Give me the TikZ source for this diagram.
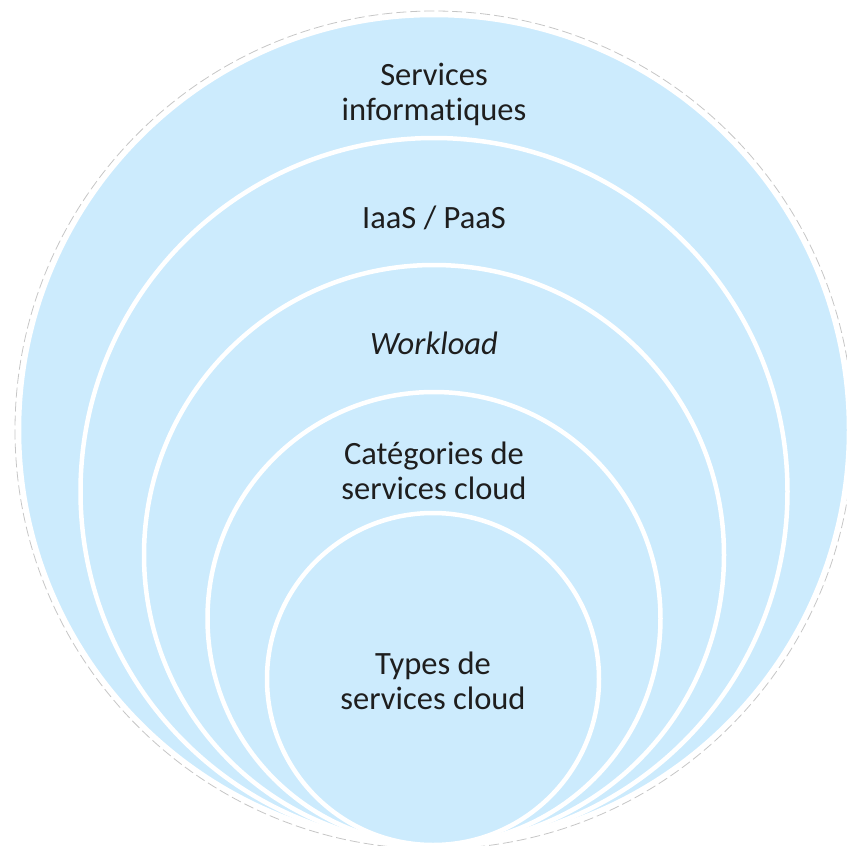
\documentclass[tikz,border=0pt]{standalone}
\usepackage{fontspec}
\setmainfont{Carlito}[Ligatures=NoCommon]
\definecolor{ringfill}{RGB}{204,235,253}
\definecolor{txt}{RGB}{30,30,30}
\begin{document}
\begin{tikzpicture}[x=1pt,y=-1pt,
  ring/.style={fill=ringfill,draw=white,line width=4.5pt},
  lbl/.style={text=txt,align=center,font=\fontsize{32.5}{35}\selectfont,inner sep=0pt}]
\useasboundingbox (0,0) rectangle (847,846);
\draw[gray!45,dashed,line width=0.8pt,dash pattern=on 10pt off 4pt] (434,430) circle[radius=419pt];
\draw[ring] (434,430) circle[radius=415pt];
\draw[ring] (434,491.5) circle[radius=353.5pt];
\draw[ring] (434,555) circle[radius=290pt];
\draw[ring] (434,618.5) circle[radius=226.5pt];
\draw[ring] (433,679) circle[radius=166pt];
\node[lbl] (t1) at (434,94) {Services\\informatiques};
\node[lbl] (t2) at (434,218) {IaaS / PaaS};
\node[lbl] (t3) at (434,343) {\itshape Workload};
\node[lbl] (t4) at (434,471) {Catégories de\\services cloud};
\node[lbl] (t5) at (433,681) {Types de\\services cloud};
\end{tikzpicture}
\end{document}
